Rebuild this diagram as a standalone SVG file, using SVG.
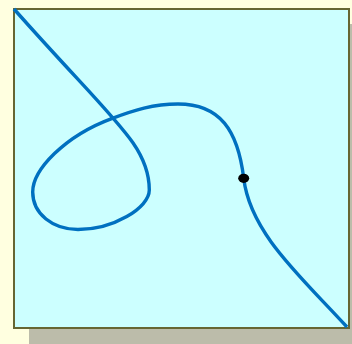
<svg xmlns="http://www.w3.org/2000/svg" width="352" height="344" viewBox="0 0 352 344">
  <style>
    .bg { fill: #ffffe0; }
    .shadow { fill: #bcbcaa; }
    .frame { fill: #ccffff; stroke: #666633; stroke-width: 2; }
    .curve { fill: none; stroke: #0070c0; stroke-width: 3.4; }
    .dot { fill: #000000; }
  </style>
  <rect class="bg" x="0" y="0" width="352" height="344"/>
  <rect class="shadow" x="29" y="24" width="340" height="330"/>
  <rect class="frame" x="14" y="9" width="335" height="319"/>
  <g id="connectors">
    <path class="curve" d="M14,9 C114,122 149.3,145 149.3,190 C149.3,208 113,229.5 78,229.5 C53,229.5 32.7,214 32.7,192 C32.7,170 64.3,136.06 112.3,118.3 C134.3,110.2 153,104 178,104 C220,104 237.9,130.3 243.7,178.3 C250.3,233.3 301,276.6 347,327"/>
  </g>
  <g id="point">
    <ellipse class="dot" cx="243.7" cy="178.3" rx="5.5" ry="4.6"/>
  </g>
</svg>
